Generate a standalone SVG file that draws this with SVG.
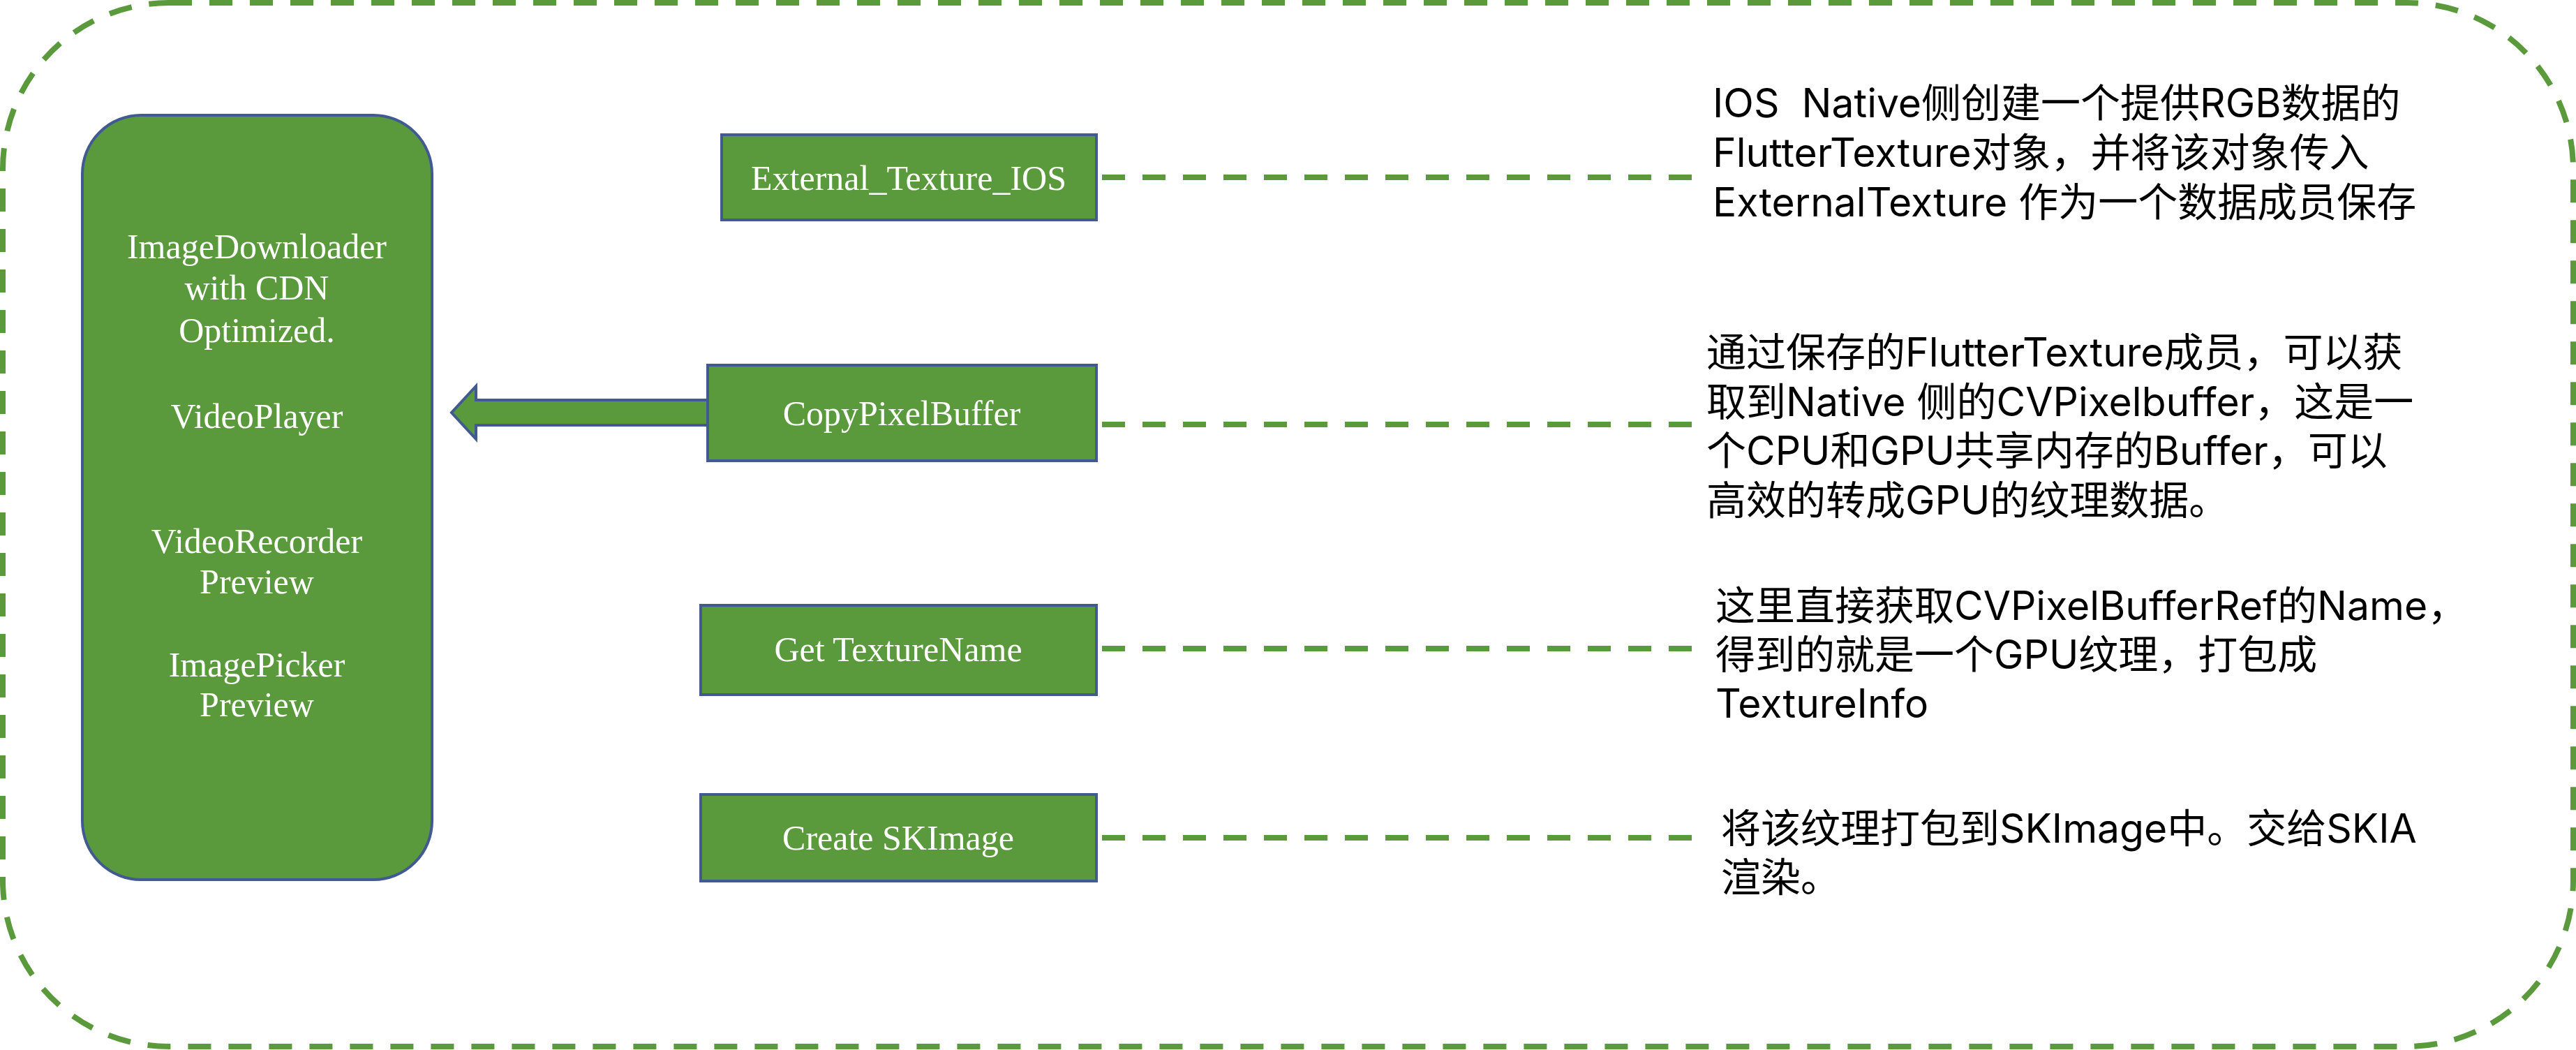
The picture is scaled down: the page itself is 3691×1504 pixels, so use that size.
<svg xmlns="http://www.w3.org/2000/svg" width="3691" height="1504" viewBox="0 0 3691 1504">
<style>
.node{fill:#5A9A3C;stroke:#415A92;stroke-width:4}
.lbl{font-family:"Liberation Serif","Times New Roman",serif;font-size:50px;fill:#FFFFFF;text-anchor:middle}
.dash{fill:none;stroke:#5A9A3C;stroke-width:8;stroke-dasharray:33 25}
.note{font-family:Inter,"Noto Sans CJK SC",sans-serif;font-size:57px;fill:#000000;white-space:pre}
</style>
<rect id="frame" x="4" y="4" width="3683" height="1495" rx="238" ry="238" class="dash"/>
<g id="connectors">
<line x1="1579" y1="254" x2="2428" y2="254" class="dash"/>
<line x1="1579" y1="608" x2="2428" y2="608" class="dash"/>
<line x1="1579" y1="929" x2="2428" y2="929" class="dash"/>
<line x1="1579" y1="1200" x2="2428" y2="1200" class="dash"/>
<path id="arrow-copy" d="M1014,573 L682,573 L682,553 L647,591 L682,629 L682,609 L1014,609" class="node" stroke-linejoin="miter"/>
</g>
<g id="clients">
<rect x="118" y="165" width="501" height="1095" rx="84" ry="84" class="node"/>
<text class="lbl" x="368" y="370">ImageDownloader</text>
<text class="lbl" x="368" y="429">with CDN</text>
<text class="lbl" x="368" y="490">Optimized.</text>
<text class="lbl" x="368" y="613">VideoPlayer</text>
<text class="lbl" x="368" y="792">VideoRecorder</text>
<text class="lbl" x="368" y="850">Preview</text>
<text class="lbl" x="368" y="969">ImagePicker</text>
<text class="lbl" x="368" y="1026">Preview</text>
</g>
<g id="external-texture-ios">
<rect x="1034" y="193" width="537" height="122" class="node"/>
<text class="lbl" x="1302" y="272">External_Texture_IOS</text>
</g>
<g id="copy-pixel-buffer">
<rect x="1014" y="523" width="557" height="137" class="node"/>
<text class="lbl" x="1292" y="609">CopyPixelBuffer</text>
</g>
<g id="get-texture-name">
<rect x="1004" y="867" width="567" height="128" class="node"/>
<text class="lbl" x="1287" y="947">Get TextureName</text>
</g>
<g id="create-skimage">
<rect x="1004" y="1138" width="567" height="124" class="node"/>
<text class="lbl" x="1287" y="1217">Create SKImage</text>
</g>
<g id="note-1">
<text class="note" x="2454" y="168">IOS  Native侧创建一个提供RGB数据的</text>
<text class="note" x="2454" y="239">FlutterTexture对象，并将该对象传入</text>
<text class="note" x="2454" y="310">ExternalTexture 作为一个数据成员保存</text>
</g>
<g id="note-2">
<text class="note" x="2445" y="525">通过保存的FlutterTexture成员，可以获</text>
<text class="note" x="2445" y="596">取到Native 侧的CVPixelbuffer，这是一</text>
<text class="note" x="2445" y="666">个CPU和GPU共享内存的Buffer，可以</text>
<text class="note" x="2445" y="737">高效的转成GPU的纹理数据。</text>
</g>
<g id="note-3">
<text class="note" x="2458" y="888">这里直接获取CVPixelBufferRef的Name，</text>
<text class="note" x="2458" y="958">得到的就是一个GPU纹理，打包成</text>
<text class="note" x="2458" y="1028">TextureInfo</text>
</g>
<g id="note-4">
<text class="note" x="2466" y="1207">将该纹理打包到SKImage中。交给SKIA</text>
<text class="note" x="2466" y="1277">渲染。</text>
</g>
</svg>
